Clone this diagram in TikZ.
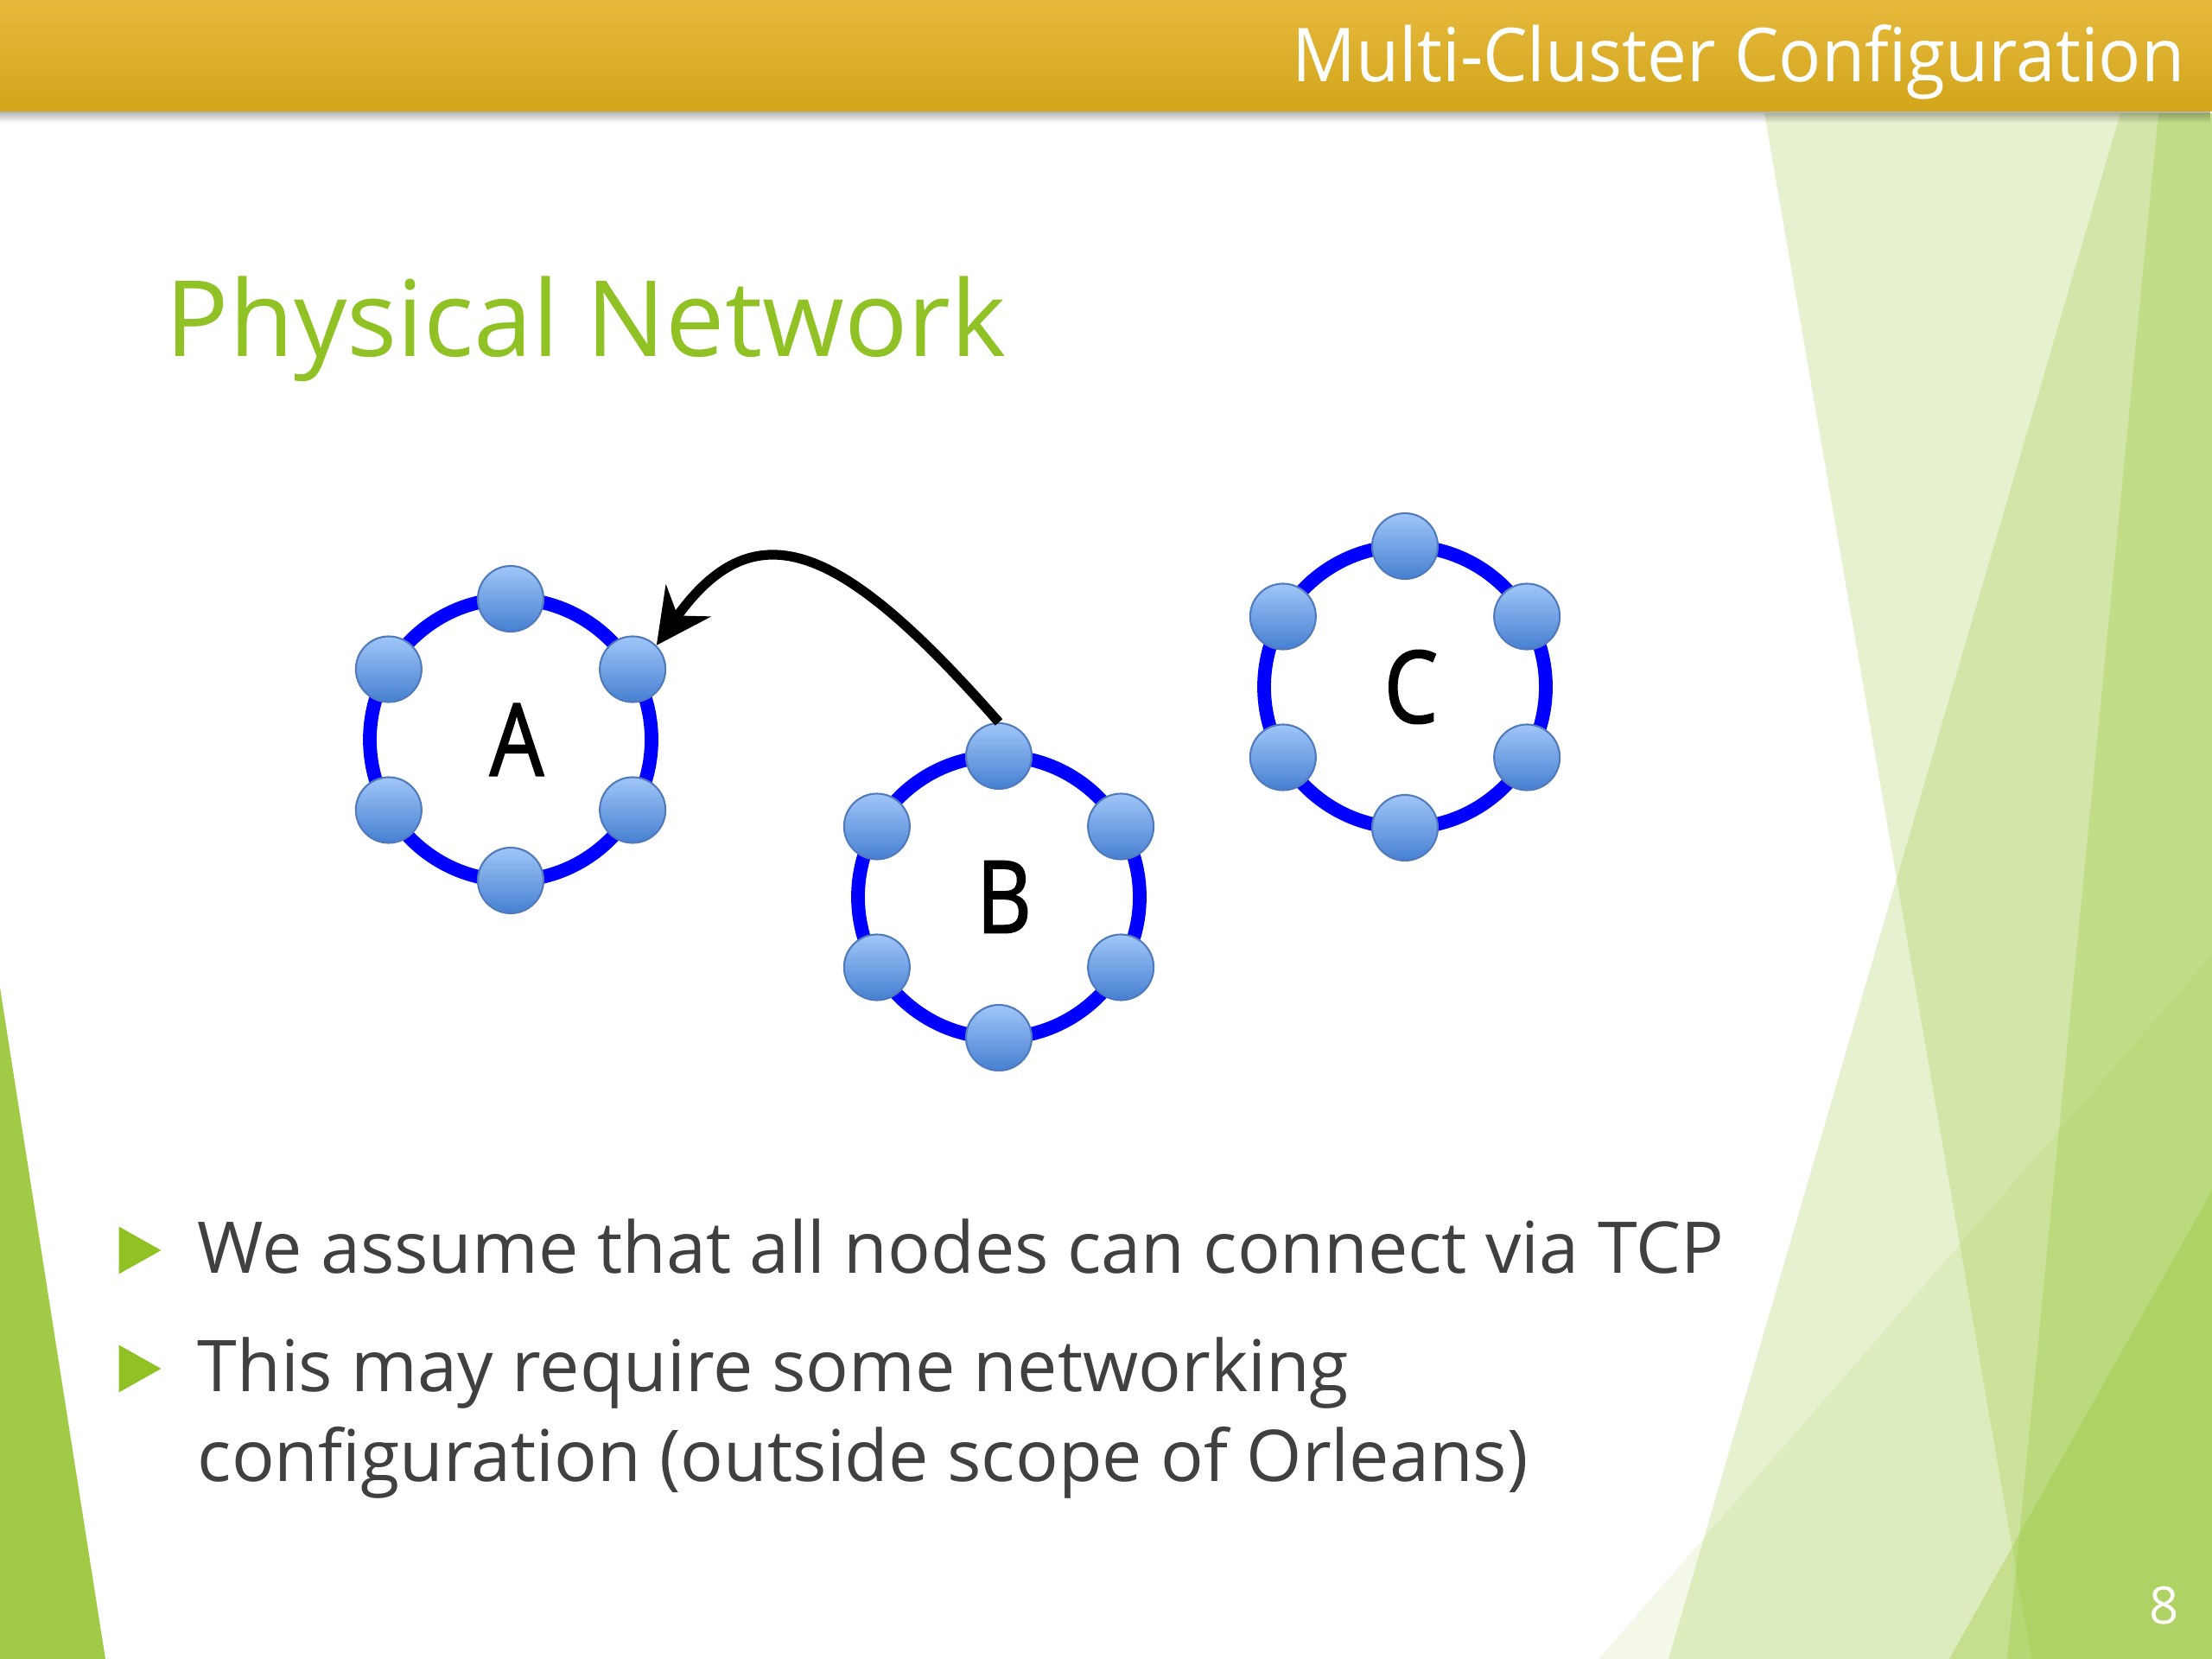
\documentclass[tikz,border=0pt]{standalone}
\usepackage{fontspec}
\setmainfont{Open Sans}
\newfontfamily\narrowfont[FakeStretch=0.95]{Open Sans}
\newfontfamily\labelfont[FakeStretch=0.85,FakeBold=1.6]{Open Sans}
\usetikzlibrary{arrows.meta,fadings}

\definecolor{facet}{RGB}{144,194,38}
\definecolor{bartop}{RGB}{230,185,62}
\definecolor{barbottom}{RGB}{210,165,26}
\definecolor{ringblue}{RGB}{0,0,255}
\definecolor{nodetop}{RGB}{160,198,248}
\definecolor{nodebottom}{RGB}{70,128,210}
\definecolor{nodeline}{RGB}{80,122,188}
\definecolor{bodytext}{RGB}{64,64,64}

\tikzstyle{ring} = [circle, draw=ringblue, line width=4.5pt, minimum size=3.26cm, inner sep=0pt, outer sep=0pt]
\tikzstyle{cname} = [inner sep=0pt, font=\labelfont\fontsize{33}{36}\selectfont]
\tikzstyle{member} = [circle, minimum size=0.76cm, inner sep=0pt, draw=nodeline, line width=0.6pt, top color=nodetop, bottom color=nodebottom]
\tikzstyle{band} = [fill=facet, draw=none]
\tikzstyle{bodyline} = [anchor=base west, inner sep=0pt, text=bodytext, font=\fontsize{23.5}{28}\selectfont]
\tikzstyle{link} = [-{Stealth[length=18pt,width=18pt,inset=6pt]}, line width=3.2pt, black]

\begin{document}
\begin{tikzpicture}
\useasboundingbox (0,0) rectangle (25.6,-19.2);
\fill[white] (0,0) rectangle (25.6,-19.2);

% facets on the right and left
\fill[band, fill opacity=0.22] (20.42,-1.31) -- (25.6,-1.31) -- (25.6,-19.2) -- (23.51,-19.2) -- cycle;
\fill[band, fill opacity=0.22] (24.54,-1.31) -- (25.6,-1.31) -- (25.6,-19.2) -- (19.31,-19.2) -- cycle;
\fill[band, fill opacity=0.25] (24.98,-1.31) -- (25.6,-1.31) -- (25.6,-19.2) -- (23.23,-19.2) -- cycle;
\fill[band, fill opacity=0.10] (18.50,-19.2) -- (25.6,-11.05) -- (25.6,-19.2) -- cycle;
\fill[band, fill opacity=0.30] (22.56,-19.2) -- (25.6,-13.78) -- (25.6,-19.2) -- cycle;
\fill[facet!85] (0,-11.43) -- (1.22,-19.2) -- (0,-19.2) -- cycle;

% header bar
\shade[top color=bartop, bottom color=barbottom] (0,0) rectangle (25.6,-1.29);
\fill[black, opacity=0.3, path fading=south] (0,-1.29) rectangle (25.6,-1.42);
\node[anchor=base east, inner sep=0pt, text=white, font=\narrowfont\fontsize{24.5}{28}\selectfont] (header) at (25.29,-0.95) {Multi-Cluster Configuration};
\node[text=white, font=\fontsize{17}{20}\selectfont] (pagenum) at (25.05,-18.58) {8};

\node[anchor=base west, inner sep=0pt, text=facet, font=\fontsize{34.7}{40}\selectfont] (title) at (1.91,-4.13) {Physical Network};

% clusters
\node[ring] (A) at (5.91,-8.56) {};
\node[ring] (B) at (11.56,-10.38) {};
\node[ring] (C) at (16.26,-7.95) {};
\node[cname] (Aname) at ([xshift=0.07cm]A.center) {A};
\node[cname] (Bname) at ([xshift=0.06cm]B.center) {B};
\node[cname] (Cname) at ([xshift=0.07cm]C.center) {C};

\node[member] (A1) at (A.90) {};
\node[member] (A2) at (A.30) {};
\node[member] (A3) at (A.-30) {};
\node[member] (A4) at (A.-90) {};
\node[member] (A5) at (A.210) {};
\node[member] (A6) at (A.150) {};

\node[member] (B1) at (B.90) {};
\node[member] (B2) at (B.30) {};
\node[member] (B3) at (B.-30) {};
\node[member] (B4) at (B.-90) {};
\node[member] (B5) at (B.210) {};
\node[member] (B6) at (B.150) {};

\node[member] (C1) at (C.90) {};
\node[member] (C2) at (C.30) {};
\node[member] (C3) at (C.-30) {};
\node[member] (C4) at (C.-90) {};
\node[member] (C5) at (C.210) {};
\node[member] (C6) at (C.150) {};

\draw[link] (B1.north) .. controls (9.75,-6.3) and (8.75,-5.85) .. (A2.north east);

% bullets
\node[bodyline] (L1) at (2.28,-14.73) {We assume that all nodes can connect via TCP};
\node[bodyline] (L2) at (2.28,-16.10) {This may require some networking};
\node[bodyline] (L3) at (2.28,-17.14) {configuration (outside scope of Orleans)};
\fill[facet] ([shift={(-0.905,0.535)}]L1.base west) -- ++(0.49,-0.275) -- ++(-0.49,-0.275) -- cycle;
\fill[facet] ([shift={(-0.905,0.535)}]L2.base west) -- ++(0.49,-0.275) -- ++(-0.49,-0.275) -- cycle;
\end{tikzpicture}
\end{document}
